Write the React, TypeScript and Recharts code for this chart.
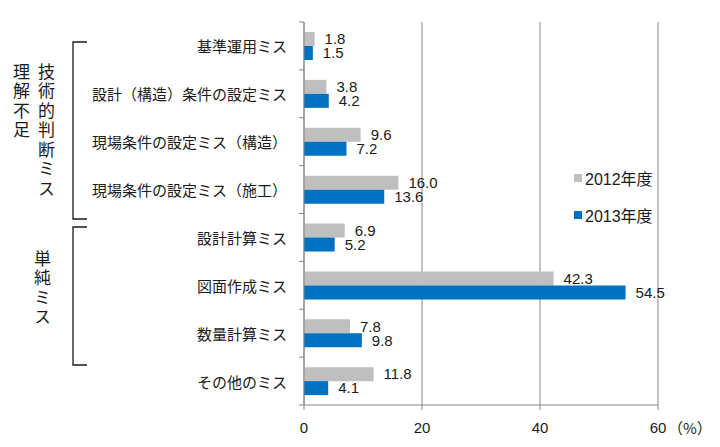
import { BarChart, Bar, XAxis, YAxis, CartesianGrid, LabelList, Customized } from 'recharts'

const categories = [
  '基準運用ミス',
  '設計（構造）条件の設定ミス',
  '現場条件の設定ミス（構造）',
  '現場条件の設定ミス（施工）',
  '設計計算ミス',
  '図面作成ミス',
  '数量計算ミス',
  'その他のミス',
]
const values2012 = [1.8, 3.8, 9.6, 16.0, 6.9, 42.3, 7.8, 11.8]
const values2013 = [1.5, 4.2, 7.2, 13.6, 5.2, 54.5, 9.8, 4.1]
const xTicks = [0, 20, 40, 60]
const seriesNames = ['2012年度', '2013年度']

const data = categories.map((name, i) => ({ name, y2012: values2012[i], y2013: values2013[i] }))

const GREY = '#bfbfbf'
const BLUE = '#0070c0'
const LINE = '#868686'
const JP = '"Noto Sans CJK JP", "Noto Sans", sans-serif'
const NUM = '"Liberation Sans", Arial, sans-serif'

// plot area
const W = 720
const H = 447
const PLOT_LEFT = 304
const PLOT_TOP = 22
const PLOT_BOTTOM = 405
const BAND = (PLOT_BOTTOM - PLOT_TOP) / categories.length

const CategoryTick = (props: any) => {
  const { y, payload, index } = props
  return (
    <g>
      <line x1={PLOT_LEFT - 5} x2={PLOT_LEFT} y1={y - BAND / 2} y2={y - BAND / 2} stroke={LINE} />
      {index === categories.length - 1 && (
        <line x1={PLOT_LEFT - 5} x2={PLOT_LEFT} y1={y + BAND / 2} y2={y + BAND / 2} stroke={LINE} />
      )}
      <text x={287} y={y} textAnchor="end" dominantBaseline="central" fontSize={15} fontFamily={JP} fill="#1a1a1a">
        {payload.value}
      </text>
    </g>
  )
}

const PercentLabel = () => (
  <text x={668} y={427} dominantBaseline="central" fontSize={15} fontFamily={JP} fill="#1a1a1a">
    （%）
  </text>
)

const vText = (text: string, left: number, top: number) => (
  <div
    style={{
      position: 'absolute',
      left,
      top,
      writingMode: 'vertical-rl',
      fontFamily: JP,
      fontSize: 17,
      letterSpacing: 2.5,
      lineHeight: 1,
      color: '#1a1a1a',
    }}
  >
    {text}
  </div>
)

export default function App() {
  const legendColors = [GREY, BLUE]
  return (
    <div style={{ position: 'absolute', left: 0, top: 0, width: W, height: H, background: '#fff' }}>
      <BarChart
        width={W}
        height={H}
        data={data}
        layout="vertical"
        margin={{ top: PLOT_TOP, right: 62, left: 0, bottom: 12 }}
        barCategoryGap={10}
        barGap={0}
      >
        <CartesianGrid horizontal={false} stroke={LINE} />
        <XAxis
          type="number"
          domain={[0, 60]}
          ticks={xTicks}
          height={30}
          axisLine={{ stroke: LINE }}
          tickLine={{ stroke: LINE }}
          tickSize={5}
          tickMargin={12}
          tick={{ fontSize: 15, fontFamily: NUM, fill: '#1a1a1a' }}
        />
        <YAxis
          type="category"
          dataKey="name"
          width={PLOT_LEFT}
          axisLine={{ stroke: LINE }}
          tickLine={false}
          tick={<CategoryTick />}
          interval={0}
        />
        <Bar dataKey="y2012" name={seriesNames[0]} fill={GREY} isAnimationActive={false}>
          <LabelList
            dataKey="y2012"
            position="right"
            offset={10}
            formatter={(v: any) => Number(v).toFixed(1)}
            style={{ fontSize: 15, fontFamily: NUM, fill: '#1a1a1a' }}
          />
        </Bar>
        <Bar dataKey="y2013" name={seriesNames[1]} fill={BLUE} isAnimationActive={false}>
          <LabelList
            dataKey="y2013"
            position="right"
            offset={10}
            formatter={(v: any) => Number(v).toFixed(1)}
            style={{ fontSize: 15, fontFamily: NUM, fill: '#1a1a1a' }}
          />
        </Bar>
        <Customized component={PercentLabel} />
      </BarChart>

      {/* legend */}
      <div style={{ position: 'absolute', left: 574, top: 168, fontFamily: NUM, fontSize: 16, color: '#1a1a1a' }}>
        {seriesNames.map((label, i) => (
          <div key={label} style={{ display: 'flex', alignItems: 'center', height: 20, marginBottom: 17 }}>
            <span style={{ width: 8, height: 8, background: legendColors[i], marginRight: 3, display: 'inline-block' }} />
            <span>
              {label.slice(0, 4)}
              <span style={{ fontFamily: JP }}>{label.slice(4)}</span>
            </span>
          </div>
        ))}
      </div>

      {/* group brackets */}
      <svg style={{ position: 'absolute', left: 0, top: 0 }} width={100} height={H}>
        <path d="M87,42 L73,42 L73,219 L87,219" fill="none" stroke="#1a1a1a" strokeWidth={1.3} />
        <path d="M87,227 L73,227 L73,365 L87,365" fill="none" stroke="#1a1a1a" strokeWidth={1.3} />
      </svg>
      {vText('理解不足', 13, 63)}
      {vText('技術的判断ミス', 38, 63)}
      {vText('単純ミス', 34, 250)}
    </div>
  )
}
